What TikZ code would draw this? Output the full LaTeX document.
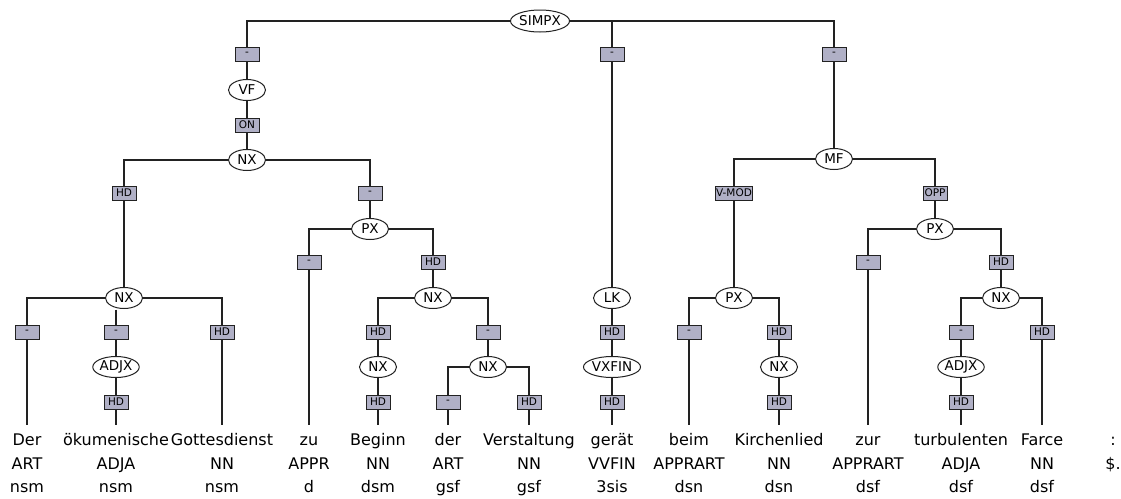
\documentclass[tikz,border=0pt]{standalone}
\usepackage{fontspec}
\setmainfont{DejaVu Sans}
\usetikzlibrary{shapes.geometric}
\definecolor{lbl}{RGB}{176,176,198}
\definecolor{ink}{RGB}{34,34,34}
\tikzset{
  cat/.style={ellipse,draw=ink,line width=1pt,fill=white,inner sep=0pt,minimum width=37pt,minimum height=21pt,font=\fontsize{13.5}{13.5}\selectfont},
  fn/.style={rectangle,draw=ink,line width=0.9pt,fill=lbl,inner xsep=1pt,inner ysep=0pt,minimum width=24pt,minimum height=14pt,font=\fontsize{10.5}{10.5}\selectfont},
  word/.style={anchor=base,inner sep=0pt,font=\fontsize{16}{16}\selectfont},
  tag/.style={anchor=base,inner sep=0pt,font=\fontsize{16}{16}\selectfont},
  edge/.style={draw=ink,line width=1.4pt},
}
\begin{document}
\begin{tikzpicture}[x=1pt,y=-1pt]
\useasboundingbox (0,0) rectangle (1121,498);
% categories
\node[cat,minimum width=59pt,minimum height=22pt] (simpx) at (540,21) {SIMPX};
\node[cat] (vf) at (247,90) {VF};
\node[cat] (nx1) at (247,160) {NX};
\node[cat] (nx2) at (124,298) {NX};
\node[cat,minimum width=46pt] (adjx1) at (116,367) {ADJX};
\node[cat] (px1) at (370,229) {PX};
\node[cat] (nx3) at (433,298) {NX};
\node[cat] (nx4) at (378,367) {NX};
\node[cat] (nx5) at (488,367) {NX};
\node[cat] (lk) at (612,298) {LK};
\node[cat,minimum width=57pt] (vxfin) at (612,367) {VXFIN};
\node[cat] (mf) at (834,159) {MF};
\node[cat] (px2) at (734,298) {PX};
\node[cat] (nx6) at (779,367) {NX};
\node[cat] (px3) at (935,229) {PX};
\node[cat] (nx7) at (1001,298) {NX};
\node[cat,minimum width=46pt] (adjx2) at (961,367) {ADJX};
% function labels
\node[fn] (e1) at (247,54) {-};
\node[fn] (e2) at (612,54) {-};
\node[fn] (e3) at (834,54) {-};
\node[fn] (e4) at (247,125) {ON};
\node[fn] (e5) at (124,193) {HD};
\node[fn] (e6) at (370,193) {-};
\node[fn] (e7) at (27,332) {-};
\node[fn] (e8) at (116,332) {-};
\node[fn] (e9) at (222,332) {HD};
\node[fn] (e10) at (116,402) {HD};
\node[fn] (e11) at (309,262) {-};
\node[fn] (e12) at (433,262) {HD};
\node[fn] (e13) at (378,332) {HD};
\node[fn] (e14) at (488,332) {-};
\node[fn] (e15) at (378,402) {HD};
\node[fn] (e16) at (448,402) {-};
\node[fn] (e17) at (529,402) {HD};
\node[fn] (e18) at (612,332) {HD};
\node[fn] (e19) at (612,402) {HD};
\node[fn] (e20) at (734,193) {V-MOD};
\node[fn] (e21) at (935,193) {OPP};
\node[fn] (e22) at (689,332) {-};
\node[fn] (e23) at (779,332) {HD};
\node[fn] (e24) at (779,402) {HD};
\node[fn] (e25) at (868,262) {-};
\node[fn] (e26) at (1001,262) {HD};
\node[fn] (e27) at (961,332) {-};
\node[fn] (e28) at (1042,332) {HD};
\node[fn] (e29) at (961,402) {HD};
% leaves
\foreach \n/\x/\w/\p/\m in {w1/27/Der/ART/nsm, w2/116/ökumenische/ADJA/nsm, w3/222/Gottesdienst/NN/nsm, w4/309/zu/APPR/d, w5/378/Beginn/NN/dsm, w6/448/der/ART/gsf, w7/529/Verstaltung/NN/gsf, w8/612/gerät/VVFIN/3sis, w9/689/beim/APPRART/dsn, w10/779/Kirchenlied/NN/dsn, w11/868/zur/APPRART/dsf, w12/961/turbulenten/ADJA/dsf, w13/1042/Farce/NN/dsf, w14/1113/:/\$./{}}{
  \node[word] (\n) at (\x,445) {\w};
  \node[tag] (\n p) at (\x,469) {\p};
  \node[tag] (\n m) at (\x,492) {\m};
}
\coordinate (t1) at (27,425);
\coordinate (t2) at (116,425);
\coordinate (t3) at (222,425);
\coordinate (t4) at (309,425);
\coordinate (t5) at (378,425);
\coordinate (t6) at (448,425);
\coordinate (t7) at (529,425);
\coordinate (t8) at (612,425);
\coordinate (t9) at (689,425);
\coordinate (t10) at (779,425);
\coordinate (t11) at (868,425);
\coordinate (t12) at (961,425);
\coordinate (t13) at (1042,425);
% connectors
\begin{scope}[edge]
\draw (simpx.west) -| (e1);
\draw (simpx.east) -| (e2);
\draw (simpx.east) -| (e3);
\draw (e1) -- (vf);
\draw (vf) -- (e4);
\draw (e4) -- (nx1);
\draw (nx1.west) -| (e5);
\draw (nx1.east) -| (e6);
\draw (e5) -- (nx2);
\draw (e6) -- (px1);
\draw (nx2.west) -| (e7);
\draw ([yshift=-0.5pt]e8 |- nx2.south) -- (e8);
\draw (nx2.east) -| (e9);
\draw (e8) -- (adjx1);
\draw (adjx1) -- (e10);
\draw (px1.west) -| (e11);
\draw (px1.east) -| (e12);
\draw (e12) -- (nx3);
\draw (nx3.west) -| (e13);
\draw (nx3.east) -| (e14);
\draw (e13) -- (nx4);
\draw (nx4) -- (e15);
\draw (e14) -- (nx5);
\draw (nx5.west) -| (e16);
\draw (nx5.east) -| (e17);
\draw (e2) -- (lk);
\draw (lk) -- (e18);
\draw (e18) -- (vxfin);
\draw (vxfin) -- (e19);
\draw (e3) -- (mf);
\draw (mf.west) -| (e20);
\draw (mf.east) -| (e21);
\draw (e20) -- (px2);
\draw (e21) -- (px3);
\draw (px2.west) -| (e22);
\draw (px2.east) -| (e23);
\draw (e23) -- (nx6);
\draw (nx6) -- (e24);
\draw (px3.west) -| (e25);
\draw (px3.east) -| (e26);
\draw (e26) -- (nx7);
\draw (nx7.west) -| (e27);
\draw (nx7.east) -| (e28);
\draw (e27) -- (adjx2);
\draw (adjx2) -- (e29);
% to leaves
\draw (e7) -- (t1);
\draw (e10) -- (t2);
\draw (e9) -- (t3);
\draw (e11) -- (t4);
\draw (e15) -- (t5);
\draw (e16) -- (t6);
\draw (e17) -- (t7);
\draw (e19) -- (t8);
\draw (e22) -- (t9);
\draw (e24) -- (t10);
\draw (e25) -- (t11);
\draw (e29) -- (t12);
\draw (e28) -- (t13);
\end{scope}
\end{tikzpicture}
\end{document}
